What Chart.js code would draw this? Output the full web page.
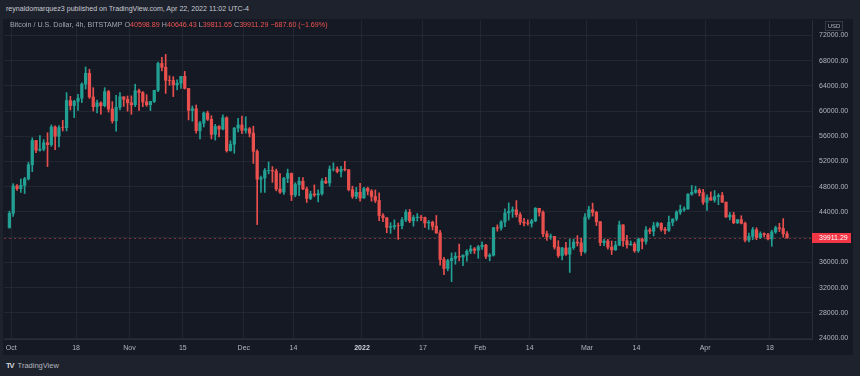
<!DOCTYPE html>
<html>
<head>
<meta charset="utf-8">
<script src="https://cdn.jsdelivr.net/npm/chart.js@4.4.0/dist/chart.umd.min.js"></script>
<style>
body{margin:0;width:860px;height:376px;overflow:hidden;background:#1e222d;position:relative;font-family:"Liberation Sans",Arial,sans-serif}
#pane{position:absolute;left:3px;top:19px;width:850px;height:336px;background:#151924}
#chart{position:absolute;left:0;top:0}
.t{position:absolute;white-space:nowrap;line-height:10px}
#pub{left:6px;top:4px;font-size:7.1px;color:#c8cad1}
#legend{left:10px;top:20px;font-size:7.15px;color:#a3a6af}
#legend .v{color:#ef5350}
#usd{left:825px;top:21px;width:16px;height:8px;border:1px solid #363a45;font-size:6px;line-height:8px;text-align:center;color:#b2b5be}
#footer{left:6px;top:361px;font-size:7.5px;color:#b2b5be}
#footer b{font-weight:900;letter-spacing:-1px;margin-right:4px;color:#d1d4dc}
</style>
</head>
<body>
<div id="pane"><canvas id="chart" width="850" height="336"></canvas></div>
<div class="t" id="pub">reynaldomarquez3 published on TradingView.com, Apr 22, 2022 11:02 UTC-4</div>
<div class="t" id="legend">Bitcoin / U.S. Dollar, 4h, BITSTAMP O<span class="v">40598.89</span> H<span class="v">40646.43</span> L<span class="v">39811.65</span> C<span class="v">39911.29</span> <span class="v">−687.60 (−1.69%)</span></div>
<div class="t" id="usd">USD</div>
<div class="t" id="footer"><b>TV</b>TradingView</div>
<script>
// daily candles, first one is Sep 30 2021 (day -1, Oct 1 = day 0)
const firstDay = -1;

const open = [
  41530,
  43790,48140,47690,48230,49250,51490,55340,53800,53960,54970,54680,57480,56010,57370,57360,61670,60880,61540,62040,64280,66000,62240,60700,61310,60860,63080,60330,58460,60590,62270,61880, // Oct
  61320,61000,63230,62940,61450,61010,61530,63300,67560,66940,64880,64860,64150,64420,65510,63600,60110,60360,56900,58100,59700,58700,56300,57560,57150,58940,53720,54740,57300,57800, // Nov
  56950,57200,56500,53620,49200,49400,50580,50600,50500,47650,47150,49350,50100,46700,48350,48880,47650,46150,46850,46700,46900,48900,48600,50800,50800,50420,50780,50700,47550,46470,47120, // Dec
  46210,47720,47300,46450,45830,43430,43080,41560,41680,41830,41820,42740,43950,42590,43100,43180,43110,42250,42380,41740,40680,36460,35030,36280,36650,36950,36850,37140,37780,38140,37920, // Jan
  38480,38740,36950,37150,41500,41440,42410,43840,44120,44340,43570,42410,42240,42200,42590,44580,43960,40540,40030,40120,38430,37080,38290,37300,38330,39210,39110,37710, // Feb
  43190,44350,43930,42450,39140,39400,38420,37990,38730,41940,39440,38790,38900,37850,39670,39340,41140,40950,41800,42190,41250,41080,42360,42890,43960,44350,44500,46820,47130,47470,47060, // Mar
  45540,46280,45870,46450,46620,45560,43210,43500,42290,42780,42210,39530,40130,41170,39940,40550,40420,39720,40830,41500,41370,40530 // Apr
];
const high = [
  44130,
  48490,48340,49230,49500,51900,55750,55340,56100,55480,56560,57800,57680,57700,58530,62930,62340,61720,62660,64480,67000,66640,63720,61740,61480,63710,63290,61500,62500,62950,62270,62400,
  62420,64270,63500,63100,62600,61560,63300,67780,68530,69000,65600,65460,64940,65500,66300,63600,60800,60970,58360,59850,60000,59270,57900,57720,59400,59100,55300,57400,58870,59200,
  59100,57400,57600,53860,49700,50900,51930,51200,50800,50100,49500,50800,50200,48650,49500,49450,47950,47300,48300,47500,49300,49500,51300,51800,51150,51250,52050,50700,48100,47900,48550,
  47900,47950,47550,47500,47050,43750,43120,42300,42750,42250,43100,44350,44400,43450,43750,43450,43180,42650,42550,43450,41100,36800,36500,37500,37550,38900,37200,38000,38700,38350,38700,
  39250,38850,37400,41550,41950,42650,44500,45450,44800,45800,43900,43000,42750,42850,44700,44580,44200,40950,40500,40150,39450,38400,39200,39700,39700,40250,39850,43750,
  44900,45400,44100,42500,39650,39650,39400,39350,42550,42000,40300,39400,39200,39850,39850,41700,41450,42350,42400,42300,41550,43350,42900,44200,45100,44800,46900,48200,48100,47700,47600,
  46700,47200,47400,46900,47100,45560,43900,43950,42800,43400,42400,40650,41550,41500,40850,40700,40600,41100,41750,42200,42950,40900
];
const low = [
  41410,
  43290,47430,47100,46930,49060,50400,53400,53650,53700,51200,54420,53870,54300,56850,56850,60180,58970,60100,61350,63490,62000,60000,59700,59520,60670,59840,58100,56800,60180,60740,59990,
  59500,60700,60100,60700,60760,60080,61350,63100,66380,62800,64100,62300,63350,63600,63500,58600,58400,56500,55600,57480,58500,55600,55400,55900,57000,53500,53650,53300,56700,56400,
  56500,55900,51700,42000,47100,47100,50050,48700,47350,46950,46800,48650,45800,46400,46600,47550,45500,45950,46450,45600,46650,48500,48100,50500,50200,49550,50500,47350,46150,46100,45700,
  46200,46700,45700,45500,42600,42450,40700,40600,41250,39650,41300,42450,42300,41750,42550,42600,41550,41250,41150,40600,35550,34050,34650,32950,35700,36250,35500,36200,37400,37400,36650,
  38050,36600,36250,37000,40950,41100,41650,42700,43150,43200,42000,41800,41900,41600,42450,43350,40100,39500,39650,38100,36800,36400,37100,34400,38050,38600,37100,37450,
  42850,43350,41850,38650,38650,38100,37250,37900,38650,38550,38250,38700,37600,37600,38150,38900,40550,40200,41550,40950,40500,40900,41800,42600,43600,44100,44400,46650,46950,46550,45200,
  44250,45850,45550,45150,45500,43150,42750,42150,42150,42100,39250,39250,39600,39600,39800,40050,39550,38550,40600,40900,40000,39800
];
const close = [
  43790,
  48140,47690,48230,49250,51490,55340,53800,53960,54970,54680,57480,56010,57370,57360,61670,60880,61540,62040,64280,66000,62240,60700,61310,60860,63080,60330,58460,60590,62270,61880,61320,
  61000,63230,62940,61450,61010,61530,63300,67560,66940,64880,64860,64150,64420,65510,63600,60110,60360,56900,58100,59700,58700,56300,57560,57150,58940,53720,54740,57300,57800,56950,
  57200,56500,53620,49200,49400,50580,50600,50500,47650,47150,49350,50100,46700,48350,48880,47650,46150,46850,46700,46900,48900,48600,50800,50800,50420,50780,50700,47550,46470,47120,46210,
  47720,47300,46450,45830,43430,43080,41560,41680,41830,41820,42740,43950,42590,43100,43180,43110,42250,42380,41740,40680,36460,35030,36280,36650,36950,36850,37140,37780,38140,37920,38480,
  38740,36950,37150,41500,41440,42410,43840,44120,44340,43570,42410,42240,42200,42590,44580,43960,40540,40030,40120,38430,37080,38290,37300,38330,39210,39110,37710,43190,
  44350,43930,42450,39140,39400,38420,37990,38730,41940,39440,38790,38900,37850,39670,39340,41140,40950,41800,42190,41250,41080,42360,42890,43960,44350,44500,46820,47130,47470,47060,45540,
  46280,45870,46450,46620,45560,43210,43500,42290,42780,42210,39530,40130,41170,39940,40550,40420,39720,40830,41500,41370,40530,39911.29
];

const tickDays = [0, 17, 31, 45, 61, 74, 92, 108, 123, 136, 151, 164, 182, 199];
const tickLabels = ['Oct', '18', 'Nov', '15', 'Dec', '14', '2022', '17', 'Feb', '14', 'Mar', '14', 'Apr', '18'];
const priceTicks = [24000, 28000, 32000, 36000, 40000, 44000, 48000, 52000, 56000, 60000, 64000, 68000, 72000];
const lastPrice = 39911.29;

const UP = '#22a094', DOWN = '#e84f4d';
const xs = close.map((_, i) => firstDay + i + 0.5);
const cols = close.map((c, i) => c >= open[i] ? UP : DOWN);

Chart.defaults.font.family = '"Liberation Sans", Arial, sans-serif';

// dashed last price line + red price tag on the axis
const lastPriceMark = {
  id: 'lastPriceMark',
  afterDatasetsDraw(chart) {
    const {ctx, chartArea, scales} = chart;
    const y = Math.round(scales.y.getPixelForValue(lastPrice)) + 0.5;
    ctx.save();
    ctx.strokeStyle = 'rgba(239,83,80,0.45)';
    ctx.lineWidth = 1;
    ctx.setLineDash([2, 3]);
    ctx.beginPath(); ctx.moveTo(chartArea.left, y); ctx.lineTo(chartArea.right, y); ctx.stroke();
    ctx.restore();
  },
  afterDraw(chart) {
    const {ctx, chartArea, scales} = chart;
    const y = Math.round(scales.y.getPixelForValue(lastPrice));
    ctx.save();
    ctx.fillStyle = '#f23645';
    ctx.fillRect(chartArea.right, y - 5, 39, 10);
    ctx.fillStyle = '#ffffff';
    ctx.font = '7px "Liberation Sans", Arial, sans-serif';
    ctx.textBaseline = 'middle';
    ctx.fillText(lastPrice.toFixed(2), chartArea.right + 7, y + 0.5);
    ctx.restore();
  }
};

new Chart(document.getElementById('chart'), {
  type: 'bar',
  data: {
    datasets: [
      {
        label: 'body',
        data: xs.map((x, i) => ({x, y: [open[i], close[i]]})),
        backgroundColor: cols,
        barThickness: 2.6,
        grouped: false,
        order: 0
      },
      {
        label: 'wick',
        data: xs.map((x, i) => ({x, y: [low[i], high[i]]})),
        backgroundColor: cols,
        barThickness: 1,
        grouped: false,
        order: 1
      }
    ]
  },
  options: {
    responsive: false,
    animation: false,
    devicePixelRatio: 1,
    layout: {padding: {left: 1, top: 1, right: 0, bottom: 0}},
    plugins: {legend: {display: false}, tooltip: {enabled: false}},
    scales: {
      x: {
        type: 'linear',
        min: -1.915,
        max: 210.05,
        offset: false,
        grid: {color: 'rgba(42,46,57,0.6)', drawTicks: false, offset: false},
        border: {color: '#2a2e39'},
        afterBuildTicks: s => { s.ticks = tickDays.map(v => ({value: v})); },
        afterFit: s => { s.height = 16; s.paddingLeft = 0; s.paddingRight = 0; },
        ticks: {
          autoSkip: false,
          maxRotation: 0,
          padding: 5,
          color: ctx => ctx.tick && ctx.tick.value === 92 ? '#d1d4dc' : '#b2b5be',
          font: ctx => ({size: 7, weight: ctx.tick && ctx.tick.value === 92 ? 'bold' : 'normal'}),
          callback: v => tickLabels[tickDays.indexOf(v)]
        }
      },
      y: {
        position: 'right',
        min: 23850,
        max: 74450,
        beginAtZero: false,
        grid: {color: 'rgba(42,46,57,0.6)', drawTicks: false},
        border: {color: '#2a2e39'},
        afterBuildTicks: s => { s.ticks = priceTicks.map(v => ({value: v})); },
        afterFit: s => { s.width = 41; s.paddingTop = 0; s.paddingBottom = 0; },
        ticks: {
          padding: 7,
          color: '#b2b5be',
          font: {size: 7},
          callback: v => v.toFixed(2)
        }
      }
    }
  },
  plugins: [lastPriceMark]
});
</script>
</body>
</html>
